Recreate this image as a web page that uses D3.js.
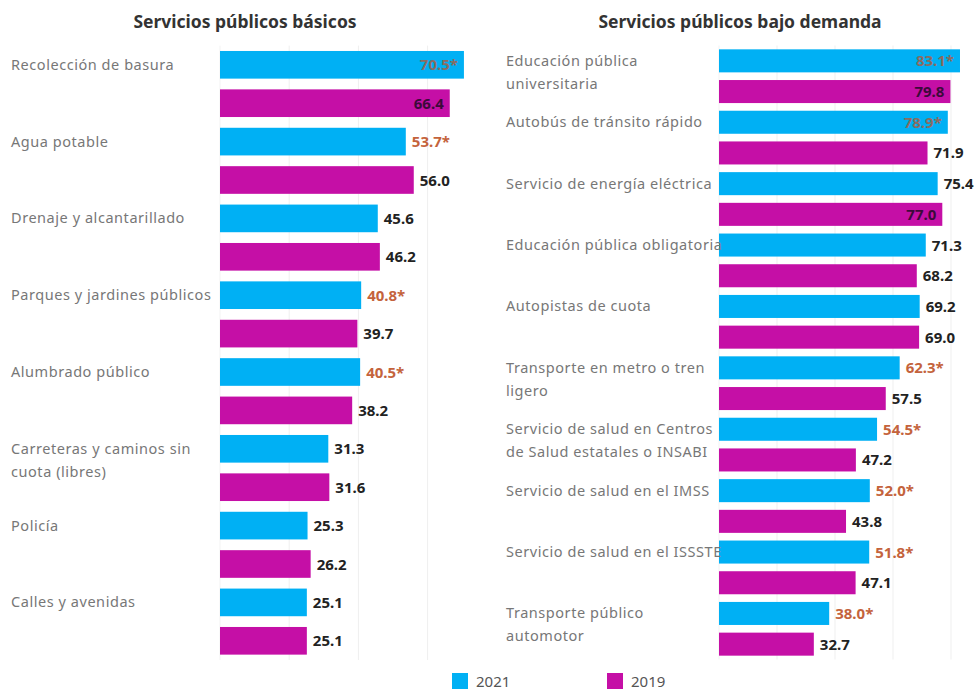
<!DOCTYPE html>
<html>
<head>
<meta charset="utf-8">
<script src="https://cdn.jsdelivr.net/npm/d3@7"></script>
<style>
  body { margin: 0; background: #fff; }
  text { font-family: "Noto Sans", sans-serif; }
</style>
</head>
<body>
<div id="chart"></div>
<script>
// Servicios públicos básicos
var basicCats = ["Recolección de basura", "Agua potable", "Drenaje y alcantarillado",
  "Parques y jardines públicos", "Alumbrado público", "Carreteras y caminos sin\ncuota (libres)",
  "Policía", "Calles y avenidas"];
var basic2021 = [70.5, 53.7, 45.6, 40.8, 40.5, 31.3, 25.3, 25.1];
var basic2021Sig = [true, true, false, true, true, false, false, false];
var basic2019 = [66.4, 56.0, 46.2, 39.7, 38.2, 31.6, 26.2, 25.1];

// Servicios públicos bajo demanda
var demandCats = ["Educación pública\nuniversitaria", "Autobús de tránsito rápido",
  "Servicio de energía eléctrica", "Educación pública obligatoria", "Autopistas de cuota",
  "Transporte en metro o tren\nligero", "Servicio de salud en Centros\nde Salud estatales o INSABI",
  "Servicio de salud en el IMSS", "Servicio de salud en el ISSSTE", "Transporte público\nautomotor"];
var demand2021 = [83.1, 78.9, 75.4, 71.3, 69.2, 62.3, 54.5, 52.0, 51.8, 38.0];
var demand2021Sig = [true, true, false, false, false, true, true, true, true, true];
var demand2019 = [79.8, 71.9, 77.0, 68.2, 69.0, 57.5, 47.2, 43.8, 47.1, 32.7];

var years = ["2021", "2019"];
var gridTicks = [20, 40, 60, 80];

(function() {

  var width = 977;
  var height = 692;
  var color = { "2021": "#00b0f4", "2019": "#c50fa6" };

  var svg = d3.select('#chart')
    .append('svg')
    .attr('width', width)
    .attr('height', height);

  drawPanel({
    title: "Servicios públicos básicos", titleX: 245,
    cats: basicCats, v2021: basic2021, sig: basic2021Sig, v2019: basic2019,
    x0: 220, x1: 566, top: 45.6, bottom: 660, pad: 0.28,
    labelX: 11, limit: 475, ticks: [20, 40, 60]
  });

  drawPanel({
    title: "Servicios públicos bajo demanda", titleX: 740,
    cats: demandCats, v2021: demand2021, sig: demand2021Sig, v2019: demand2019,
    x0: 719, x1: 1009, top: 45.5, bottom: 659.5, pad: 0.25,
    labelX: 506, limit: 977, ticks: gridTicks
  });

  function drawPanel(p) {
    var g = svg.append('g');

    var rows = [];
    p.cats.forEach(function(c, i) {
      rows.push({ cat: c, year: "2021", value: p.v2021[i], sig: p.sig[i], idx: i });
      rows.push({ cat: c, year: "2019", value: p.v2019[i], sig: false, idx: i });
    });

    var x = d3.scaleLinear().domain([0, 100]).range([p.x0, p.x1]);
    var y = d3.scaleBand()
      .domain(rows.map(function(d, i) { return i; }))
      .range([p.top, p.bottom])
      .paddingInner(p.pad)
      .paddingOuter(p.pad / 2);

    // gridlines
    g.selectAll('line.grid')
      .data(p.ticks)
      .enter()
      .append('line')
      .attr('x1', function(d) { return x(d); })
      .attr('x2', function(d) { return x(d); })
      .attr('y1', p.top)
      .attr('y2', p.bottom)
      .attr('stroke', '#efefef')
      .attr('stroke-width', 1);

    g.append('line')
      .attr('x1', x(0)).attr('x2', x(0))
      .attr('y1', p.top).attr('y2', p.bottom)
      .attr('stroke', '#f3f3f3');

    g.append('text')
      .attr('x', p.titleX)
      .attr('y', 28)
      .attr('text-anchor', 'middle')
      .attr('font-size', 17.5)
      .attr('font-weight', 700)
      .attr('fill', '#333')
      .text(p.title);

    g.selectAll('rect.bar')
      .data(rows)
      .enter()
      .append('rect')
      .attr('x', x(0))
      .attr('y', function(d, i) { return y(i); })
      .attr('width', function(d) { return x(d.value) - x(0); })
      .attr('height', y.bandwidth())
      .attr('fill', function(d) { return color[d.year]; });

    // category labels, centred on the 2021 bar
    p.cats.forEach(function(c, i) {
      var cy = y(i * 2) + y.bandwidth() / 2 + 5;
      var t = g.append('text')
        .attr('x', p.labelX)
        .attr('y', cy)
        .attr('font-size', 14.5)
        .attr('letter-spacing', 0.55)
        .attr('fill', '#777');
      c.split('\n').forEach(function(line, k) {
        t.append('tspan')
          .attr('x', p.labelX)
          .attr('dy', k === 0 ? 0 : 23)
          .text(line);
      });
    });

    // value labels: outside the bar if it fits, otherwise inside
    g.selectAll('text.val')
      .data(rows)
      .enter()
      .append('text')
      .attr('class', 'val')
      .attr('y', function(d, i) { return y(i) + y.bandwidth() / 2 + 5.5; })
      .attr('font-size', 15)
      .attr('font-weight', 700)
      .text(function(d) { return d.value.toFixed(1) + (d.sig ? '*' : ''); })
      .each(function(d) {
        var w = this.getComputedTextLength();
        var end = x(d.value);
        var sel = d3.select(this);
        if (end + 6 + w <= p.limit) {
          sel.attr('x', end + 6)
            .attr('fill', d.sig ? '#c4633c' : '#222');
        } else {
          sel.attr('x', end - 6)
            .attr('text-anchor', 'end')
            .attr('fill', d.year === "2021" ? '#8a6c62' : '#3c0a3a');
        }
      });
  }

  // legend
  var legend = svg.append('g');
  var legendX = [452, 607];
  legend.selectAll('rect')
    .data(years)
    .enter()
    .append('rect')
    .attr('x', function(d, i) { return legendX[i]; })
    .attr('y', 673)
    .attr('width', 16)
    .attr('height', 16)
    .attr('fill', function(d) { return color[d]; });
  legend.selectAll('text')
    .data(years)
    .enter()
    .append('text')
    .attr('x', function(d, i) { return legendX[i] + 24; })
    .attr('y', 687)
    .attr('font-size', 15)
    .attr('fill', '#555')
    .text(function(d) { return d; });

})();
</script>
</body>
</html>
